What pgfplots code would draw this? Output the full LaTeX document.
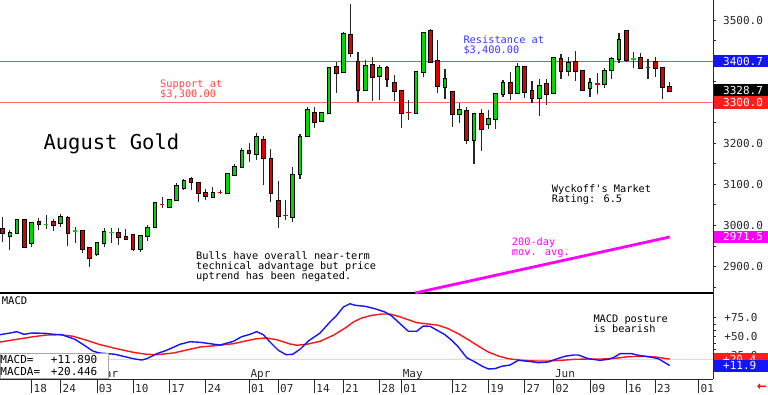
\documentclass[border=0pt]{standalone}
\usepackage{pgfplots}
\pgfplotsset{compat=1.18}
\usepackage{pgfplotstable}
\usepackage{fontspec}
\setmainfont{DejaVu Sans Mono}
\newfontfamily\mono{DejaVu Sans Mono}
\newfontfamily\dvs{DejaVu Sans}
\newcommand\axfont{\mono\fontsize{11}{12}\selectfont}
\newcommand\smallfont{\mono\fontsize{10.3}{10.3}\selectfont}
\definecolor{cgreen}{RGB}{0,215,0}
\definecolor{cred}{RGB}{222,0,0}
\definecolor{resblue}{RGB}{105,105,255}
\definecolor{supred}{RGB}{255,105,105}
\definecolor{restext}{RGB}{55,55,255}
\definecolor{suptext}{RGB}{255,70,70}
\definecolor{mag}{RGB}{255,0,255}
\definecolor{boxblue}{RGB}{20,20,255}
\definecolor{boxred}{RGB}{255,30,30}
\definecolor{pinkline}{RGB}{255,205,205}
\definecolor{macdblue}{RGB}{20,20,255}
\definecolor{macdred}{RGB}{255,20,20}
\definecolor{axgray}{RGB}{40,40,40}

% candles: i = trading day index (0 = Feb 18)
\pgfplotstableread{
i O H L C
-3 2974.6 2988.5 2939.8 2981.9
-2 2980.5 3014.6 2978.8 3012.9
0 2956.1 3008.8 2946.3 3006.3
4 3004.9 3026.8 2996.6 3021.0
9 2929.3 2960.0 2925.1 2957.6
10 2956.1 2992.7 2947.8 2984.4
15 2942.9 2976.3 2934.1 2973.9
16 2973.9 3000.0 2962.4 2994.1
17 2995.1 3055.1 2993.4 3053.7
19 3045.4 3064.1 3043.9 3061.7
20 3061.7 3102.4 3060.0 3096.6
21 3091.7 3112.2 3086.1 3108.0
25 3068.3 3094.1 3065.8 3078.0
27 3078.0 3126.8 3076.3 3124.4
28 3122.7 3148.8 3120.2 3141.5
29 3142.9 3187.8 3139.0 3181.2
31 3173.2 3225.8 3159.3 3216.1
36 3021.0 3142.9 3007.3 3122.7
37 3124.4 3222.7 3112.2 3216.1
38 3218.5 3287.8 3217.8 3281.2
40 3255.1 3276.3 3251.9 3273.2
41 3273.2 3386.8 3271.5 3384.4
43 3374.6 3470.7 3372.2 3465.8
46 3330.0 3403.2 3328.3 3388.5
48 3364.1 3391.0 3305.6 3384.4
53 3274.6 3376.3 3273.2 3373.2
54 3373.9 3472.2 3361.0 3469.7
57 3338.0 3381.2 3307.3 3356.1
59 3270.7 3297.6 3248.8 3281.2
61 3208.0 3273.2 3149.5 3270.7
63 3246.3 3281.2 3234.1 3259.3
64 3260.0 3321.9 3234.1 3319.5
65 3320.2 3354.4 3313.6 3346.3
67 3323.4 3395.1 3320.2 3385.4
70 3311.2 3356.1 3267.3 3340.5
72 3321.9 3409.7 3319.5 3407.3
74 3377.1 3409.7 3364.9 3395.1
77 3334.1 3358.5 3312.2 3346.3
79 3343.9 3382.9 3334.1 3376.3
80 3378.8 3409.7 3356.8 3405.6
81 3404.9 3468.3 3396.6 3451.9
}\greencandles

\pgfplotstableread{
i O H L C
-4 2991.7 3019.5 2960.0 2980.5
-1 3012.9 3016.1 2946.3 2947.8
1 3008.8 3017.1 2988.5 3002.4
3 3008.0 3014.6 2986.1 3001.5
5 3018.5 3022.7 2949.5 2980.5
7 2986.1 2988.5 2931.7 2941.5
8 2943.9 2947.8 2897.6 2919.5
12 2980.5 2992.7 2951.9 2972.2
13 2970.7 2990.2 2964.1 2965.8
14 2976.3 2978.0 2938.0 2941.5
22 3112.2 3117.1 3086.1 3106.3
23 3103.9 3106.3 3056.1 3079.5
24 3078.0 3087.8 3061.7 3071.5
30 3181.2 3200.0 3155.1 3177.1
32 3208.0 3217.8 3098.3 3163.4
33 3161.7 3185.4 3057.5 3079.5
34 3059.3 3108.0 2994.1 3023.4
39 3274.6 3287.8 3236.6 3252.7
42 3385.4 3399.0 3323.4 3370.7
44 3464.1 3539.7 3409.7 3421.0
45 3399.0 3423.4 3300.0 3330.0
47 3391.0 3411.2 3303.9 3361.0
49 3384.4 3388.5 3338.0 3356.1
50 3347.8 3366.6 3303.9 3328.3
51 3328.3 3330.0 3236.6 3274.6
55 3474.6 3478.0 3395.1 3399.0
56 3401.5 3451.9 3321.9 3339.7
58 3324.4 3325.8 3239.0 3270.7
60 3278.8 3289.3 3198.3 3208.0
62 3270.7 3282.9 3181.9 3234.1
66 3346.3 3374.6 3305.6 3323.4
68 3385.4 3386.8 3309.7 3325.8
69 3328.3 3352.7 3299.0 3311.2
71 3343.9 3356.1 3293.4 3319.5
73 3404.9 3417.8 3356.8 3376.3
75 3398.3 3425.8 3352.7 3377.1
76 3377.1 3378.8 3328.3 3330.0
82 3473.9 3476.3 3399.0 3403.2
84 3408.8 3419.5 3380.5 3384.4
86 3399.0 3411.2 3361.0 3384.4
87 3382.9 3386.8 3307.3 3338.0
88 3338.0 3350.2 3325.8 3328.7
}\redcandles

\pgfplotstableread{
i O H L C
2 3001.5 3025.1 2990.2 3003.0
6 2985.3 2996.6 2957.6 2986.9
11 2981.1 2992.7 2956.1 2982.7
83 3404.8 3423.4 3382.9 3406.4
}\greendoji

\pgfplotstableread{
i O H L C
18 3051.0 3068.3 3041.5 3049.4
26 3080.3 3086.1 3076.3 3078.7
35 3024.2 3061.7 3012.9 3022.6
52 3275.4 3305.6 3256.8 3273.8
78 3345.4 3370.7 3320.2 3343.8
85 3386.2 3405.6 3356.1 3384.6
}\reddoji

\pgfplotstableread{
x v
-4.37 52.5
-2.99 54.7
-2.07 56.5
-1.06 53.0
0.0 54.7
1.83 54.3
2.98 53.0
4.14 52.5
5.97 46.4
7.12 39.4
8.50 30.6
9.42 28.4
11.49 26.7
14.01 20.9
15.17 19.2
15.86 20.9
17.24 27.5
18.62 32.0
20.46 39.9
21.83 43.3
23.21 42.5
25.97 38.9
27.81 43.8
28.97 49.9
30.11 53.0
31.03 56.5
31.95 52.5
32.87 42.9
34.01 32.0
35.08 26.2
36.0 26.7
37.0 33.3
38.15 44.2
39.77 54.7
41.14 69.2
42.07 78.0
42.98 88.9
43.9 93.3
44.59 91.2
45.97 89.9
47.34 86.7
48.72 82.4
49.66 77.1
50.8 67.0
51.95 57.0
53.1 57.0
54.0 63.9
54.94 63.6
56.08 57.4
57.0 52.5
57.93 45.1
58.84 36.3
60.0 22.2
61.14 16.6
62.07 11.3
62.98 7.4
63.9 7.8
64.83 10.9
65.97 12.6
67.12 18.8
68.5 17.5
69.88 15.7
71.26 16.6
72.08 19.6
73.56 24.1
74.71 25.8
75.4 25.8
76.77 20.9
78.39 18.8
79.53 20.1
80.22 22.2
81.14 27.5
82.76 27.5
83.67 25.4
85.05 23.6
86.43 20.9
88.0 11.9
}\macdline

\pgfplotstableread{
x v
-4.37 42.9
-2.07 46.4
0.22 49.9
2.07 52.1
3.9 52.5
5.74 50.4
7.59 45.1
9.42 39.4
11.72 34.1
14.01 29.3
15.86 26.7
17.24 26.2
19.53 28.4
21.38 32.4
23.21 36.3
25.97 38.6
27.81 40.7
29.66 44.6
31.03 47.2
32.41 48.2
33.79 45.9
35.63 40.3
36.55 38.6
37.93 39.9
39.77 43.8
41.6 51.7
43.45 62.6
44.36 69.2
45.52 74.5
46.9 78.0
48.28 79.7
49.43 79.7
50.57 76.7
51.95 72.2
53.1 68.3
54.7 66.6
56.08 64.9
57.46 60.4
58.84 53.8
60.22 45.9
61.6 37.6
62.98 29.7
64.36 24.5
65.74 20.9
67.59 18.8
69.43 17.9
71.26 17.9
73.1 18.8
74.94 20.1
76.77 20.5
78.62 20.5
80.45 21.4
82.29 23.6
84.12 24.1
85.96 23.2
88.0 20.4
}\macdavg

\newcommand\wicks[1]{%
\addplot[draw=none, mark=none, forget plot, error bars/.cd, y dir=plus, y explicit, error mark=none,
  error bar style={draw=black!85, line width=1.1pt, solid}]
  table[x=i, y=L, y error plus expr={\thisrow{H}-\thisrow{L}}] {#1};}
\newcommand\bodies[2]{%
\addplot[draw=none, mark=none, forget plot, error bars/.cd, y dir=plus, y explicit, error mark=none,
  error bar style={draw=black, line width=4.6pt, solid}]
  table[x=i, y expr={min(\thisrow{O},\thisrow{C})-2.44}, y error plus expr={abs(\thisrow{O}-\thisrow{C})+4.88}] {#1};
\addplot[draw=none, mark=none, forget plot, error bars/.cd, y dir=plus, y explicit, error mark=none,
  error bar style={draw=#2, line width=2.6pt, solid}]
  table[x=i, y expr={min(\thisrow{O},\thisrow{C})}, y error plus expr={abs(\thisrow{O}-\thisrow{C})}] {#1};}
\newcommand\dojis[2]{%
\addplot[draw=none, mark=none, forget plot, error bars/.cd, y dir=plus, y explicit, error mark=none,
  error bar style={draw=#2, line width=4.6pt, solid}]
  table[x=i, y expr={min(\thisrow{O},\thisrow{C})-0.8}, y error plus expr={abs(\thisrow{O}-\thisrow{C})+1.6}] {#1};}

\begin{document}
\begin{tikzpicture}
\useasboundingbox (0pt,0pt) rectangle (768pt,395pt);
% ---------------- price panel ----------------
\begin{axis}[
  at={(0pt,102pt)}, anchor=south west, scale only axis,
  width=713pt, height=293pt,
  xmin=-4.37, xmax=93.97, ymin=2834.9, ymax=3549.5,
  axis x line*=bottom, axis y line*=right,
  axis line style={-, draw=axgray},
  x axis line style={line width=1.5pt, draw=black},
  xtick=\empty,
  ytick={2900,3000,3100,3200,3300,3400,3500},
  yticklabels={2900.0,3000.0,3100.0,3200.0,3300.0,3400.0,3500.0},
  minor ytick={2850,2950,3050,3150,3250,3350,3450},
  tick align=outside, major tick length=3pt, minor tick length=3pt,
  tick style={draw=axgray, line width=0.6pt},
  yticklabel style={font=\axfont, text=axgray, anchor=west, inner sep=0pt, xshift=7pt},
  clip=false,
]
\addplot[resblue, line width=0.9pt, forget plot] coordinates {(-4.37,3400) (93.97,3400)};
\addplot[supred, line width=0.9pt, forget plot] coordinates {(-4.37,3300) (93.97,3300)};
\addplot[mag, line width=2.8pt, forget plot] coordinates {(52.9,2835.0) (56,2847.1) (60,2862.6) (64,2878.2) (68,2893.7) (72,2909.3) (76,2924.8) (80,2940.4) (84,2956.0) (88,2971.5)};
\wicks{\greencandles}
\wicks{\redcandles}
\wicks{\greendoji}
\wicks{\reddoji}
\bodies{\greencandles}{cgreen}
\bodies{\redcandles}{cred}
\dojis{\greendoji}{cgreen}
\dojis{\reddoji}{cred}
\node[anchor=west, fill=black, text=white, font=\axfont, inner sep=0pt, minimum height=13pt, xshift=0.5pt]
  at (axis cs:93.97,3328.7) {\makebox[54.5pt][l]{\hspace{9.5pt}3328.7}};
\node[anchor=west, fill=boxred, text=white, font=\axfont, inner sep=0pt, minimum height=13pt, xshift=0.5pt]
  at (axis cs:93.97,3300.0) {\makebox[54.5pt][l]{\hspace{9.5pt}3300.0}};
\node[anchor=west, fill=boxblue, text=white, font=\axfont, inner sep=0pt, minimum height=12.5pt, xshift=0.5pt]
  at (axis cs:93.97,3400.7) {\makebox[54.5pt][l]{\hspace{9.5pt}3400.7}};
\node[anchor=west, fill=mag, text=white, font=\axfont, inner sep=0pt, minimum height=12.5pt, xshift=0.5pt]
  at (axis cs:93.97,2971.5) {\makebox[54.5pt][l]{\hspace{9.5pt}2971.5}};
\end{axis}
% ---------------- MACD panel ----------------
\begin{axis}[
  at={(0pt,16pt)}, anchor=south west, scale only axis,
  width=713pt, height=86pt,
  xmin=-4.37, xmax=93.97, ymin=-5.8, ymax=107.4,
  axis x line*=bottom, axis y line*=right,
  axis line style={-, draw=axgray},
  xtick={0,4,9,14,19,24,30,34,39,43,48,51,58,63,68,72,77,82,86,92},
  xticklabels={18,24,03,10,17,24,01,07,14,21,28,01,12,19,27,02,09,16,23,01},
  tick align=outside,
  xtick style={draw=axgray, line width=0.8pt, /pgfplots/major tick length=14pt},
  xticklabel style={font=\axfont, text=axgray, anchor=base west, inner sep=0pt, xshift=1.8pt, yshift=-9.5pt},
  ytick={25,50,75}, yticklabels={+25.0,+50.0,+75.0},
  minor y tick num=2,
  ytick style={draw=axgray, line width=0.6pt, /pgfplots/major tick length=3pt},
  minor tick length=3pt,
  yticklabel style={font=\axfont, text=axgray, anchor=west, inner sep=0pt, xshift=7pt},
  clip=false,
]
\addplot[pinkline, line width=0.9pt, forget plot] coordinates {(-4.37,19.6) (93.97,19.6)};
\addplot[macdred, line width=1.4pt, forget plot] table[x=x, y=v] {\macdavg};
\addplot[macdblue, line width=1.4pt, forget plot] table[x=x, y=v] {\macdline};
\node[anchor=base west, inner sep=0pt, font=\axfont, text=axgray, xshift=1.2pt] at (axis cs:9,-3.2) {Mar};
\node[anchor=base west, inner sep=0pt, font=\axfont, text=axgray, xshift=1.2pt] at (axis cs:30,-3.2) {Apr};
\node[anchor=base west, inner sep=0pt, font=\axfont, text=axgray, xshift=1.2pt] at (axis cs:51,-3.2) {May};
\node[anchor=base west, inner sep=0pt, font=\axfont, text=axgray, xshift=1.2pt] at (axis cs:72,-3.2) {Jun};
\node[anchor=west, fill=boxred, text=white, font=\axfont, inner sep=0pt, minimum height=12pt, xshift=0.5pt]
  at (axis cs:93.97,20.4) {\makebox[54.5pt][l]{\hspace{9.5pt}+20.4}};
\node[anchor=west, fill=boxblue, text=white, font=\axfont, inner sep=0pt, minimum height=12pt, xshift=0.5pt]
  at (axis cs:93.97,11.9) {\makebox[54.5pt][l]{\hspace{9.5pt}+11.9}};
\end{axis}
% ---------------- annotations ----------------
\begin{scope}[every node/.style={anchor=base west, inner sep=0pt}]
\node[font=\smallfont, text=suptext] at (160pt,307.7pt) {Support at};
\node[font=\smallfont, text=suptext] at (160pt,297.7pt) {\$3,300.00};
\node[font=\smallfont, text=restext] at (463.3pt,351pt) {Resistance at};
\node[font=\smallfont, text=restext] at (463.3pt,341pt) {\$3,400.00};
\node[font=\mono\fontsize{20.5}{22}\selectfont, text=black] at (43.3pt,245.7pt) {August Gold};
\node[font=\smallfont] at (196pt,135.6pt) {Bulls have overall near-term};
\node[font=\smallfont] at (196pt,125.2pt) {technical advantage but price};
\node[font=\smallfont] at (196pt,115pt) {uptrend has been negated.};
\node[font=\smallfont] at (551.7pt,202.3pt) {Wyckoff's Market};
\node[font=\smallfont] at (551.7pt,192.3pt) {Rating: 6.5};
\node[font=\smallfont, text=mag] at (511.7pt,149pt) {200-day};
\node[font=\smallfont, text=mag] at (511.7pt,139pt) {mov. avg.};
\node[font=\smallfont] at (593.3pt,72pt) {MACD posture};
\node[font=\smallfont] at (593.3pt,62pt) {is bearish};
\node[font=\mono\fontsize{10.5}{11}\selectfont] at (1.7pt,90.3pt) {MACD};
\end{scope}
\draw[black!35, fill=white, line width=0.8pt] (0pt,16.3pt) rectangle (108pt,41.3pt);
\begin{scope}[every node/.style={anchor=base west, inner sep=0pt, font=\axfont}]
\node at (0.3pt,31.3pt) {MACD=};
\node at (50.7pt,31.3pt) {+11.890};
\node at (0.3pt,19pt) {MACDA=};
\node at (50.7pt,19pt) {+20.446};
\end{scope}
\node[text=red, font=\dvs\bfseries\fontsize{12}{12}\selectfont, inner sep=0pt] at (762pt,8pt) {←};
\end{tikzpicture}
\end{document}
